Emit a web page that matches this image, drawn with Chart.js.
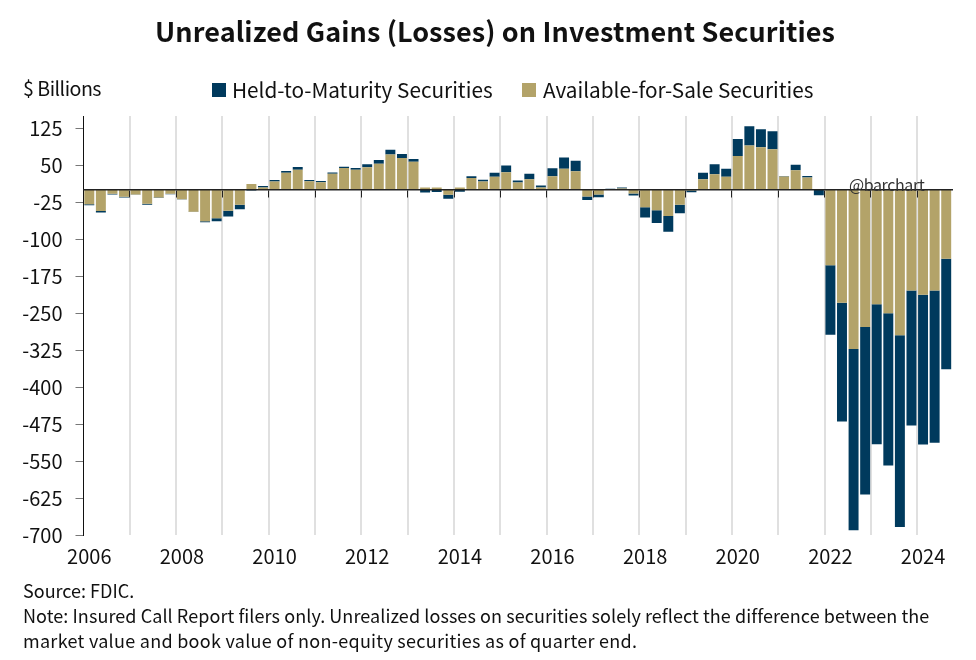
<!DOCTYPE html>
<html>
<head>
<meta charset="utf-8">
<title>Unrealized Gains (Losses) on Investment Securities</title>
<script src="https://cdn.jsdelivr.net/npm/chart.js@4"></script>
<style>
    html, body { margin: 0; padding: 0; background: #fff; }
    #wrap { position: relative; width: 976px; height: 660px; overflow: hidden;
            font-family: "Noto Sans CJK JP", "Noto Sans", sans-serif; color: #111; }
    canvas { position: absolute; left: 0; top: 0; }
    .txt { position: absolute; white-space: nowrap; }
    #title { left: 155px; top: 11px; font-size: 27px; font-weight: 700; line-height: 40px; letter-spacing: 0.1px; }
    #unit { left: 23px; top: 73px; font-size: 19.6px; line-height: 30px; letter-spacing: -0.5px; }
    #watermark { left: 849px; top: 172px; font-size: 16px; line-height: 24px; letter-spacing: -0.4px; color: #333; z-index: 2; }
    #note { left: 23px; top: 578px; font-size: 18px; line-height: 25px; }
    #note span { display: block; }
    .key { position: absolute; top: 83px; width: 14px; height: 14px; }
    .keyText { top: 74px; font-size: 20.75px; line-height: 30px; }
</style>
</head>
<body>
<div id="wrap">
    <canvas id="chart" width="976" height="660"></canvas>
    <div class="txt" id="title">Unrealized Gains (Losses) on Investment Securities</div>
    <div class="txt" id="unit">$ Billions</div>
    <div class="key" id="keyHtm" style="left:212px"></div>
    <div class="txt keyText" style="left:232px">Held-to-Maturity Securities</div>
    <div class="key" id="keyAfs" style="left:522px"></div>
    <div class="txt keyText" style="left:543px">Available-for-Sale Securities</div>
    <div class="txt" id="watermark">@barchart</div>
    <div class="txt" id="note">
        <span>Source: FDIC.</span>
        <span style="letter-spacing:0.07px">Note: Insured Call Report filers only. Unrealized losses on securities solely reflect the difference between the</span>
        <span style="letter-spacing:0.28px">market value and book value of non-equity securities as of quarter end.</span>
    </div>
</div>
<script>
// Quarter ends, one bar each
const quarters = [
    '2006Q1', '2006Q2', '2006Q3', '2006Q4', '2007Q1', '2007Q2', '2007Q3', '2007Q4',
    '2008Q1', '2008Q2', '2008Q3', '2008Q4', '2009Q1', '2009Q2', '2009Q3', '2009Q4',
    '2010Q1', '2010Q2', '2010Q3', '2010Q4', '2011Q1', '2011Q2', '2011Q3', '2011Q4',
    '2012Q1', '2012Q2', '2012Q3', '2012Q4', '2013Q1', '2013Q2', '2013Q3', '2013Q4',
    '2014Q1', '2014Q2', '2014Q3', '2014Q4', '2015Q1', '2015Q2', '2015Q3', '2015Q4',
    '2016Q1', '2016Q2', '2016Q3', '2016Q4', '2017Q1', '2017Q2', '2017Q3', '2017Q4',
    '2018Q1', '2018Q2', '2018Q3', '2018Q4', '2019Q1', '2019Q2', '2019Q3', '2019Q4',
    '2020Q1', '2020Q2', '2020Q3', '2020Q4', '2021Q1', '2021Q2', '2021Q3', '2021Q4',
    '2022Q1', '2022Q2', '2022Q3', '2022Q4', '2023Q1', '2023Q2', '2023Q3', '2023Q4',
    '2024Q1', '2024Q2', '2024Q3'
];

const availableForSale = [
    -29, -42.5, -7.5, -14, -9, -28, -15.5, -7.5,
    -19, -44, -63.5, -57.5, -42, -30, 12, 5,
    17, 35, 41, 17.5, 15.5, 33, 44.5, 41,
    46, 53, 72, 65, 57, 5, 5, -10,
    5, 24, 17, 27, 36, 15, 21.5, 5,
    28, 43, 38, -13.5, -9.5, 2, 3, -7,
    -35, -41, -53, -30, -1, 21.5, 32, 27,
    69, 90, 86.5, 82.5, 27.5, 40, 25, 2,
    -153, -229, -322.5, -278, -232, -250, -295, -204,
    -212.5, -204, -139.5
];

const heldToMaturity = [
    -2, -3.5, -1.5, -1.5, -1, -2, -1, -1,
    -0.5, -1, -2, -6, -12, -9, -1, 3,
    3, 3.5, 5.5, 2.5, 2.5, 2.5, 2.5, 3.5,
    6, 7.5, 9.5, 8, 6, -5, -4, -8,
    -3.5, 4, 3.5, 8, 13.5, 4, 11.5, 4,
    16, 23, 21, -7, -5.5, 0.5, 2, -4.5,
    -21, -26, -32, -17.5, -3.5, 13.5, 20, 16,
    34.5, 39, 36.5, 36.5, 1, 11, 3.5, -11,
    -141, -241, -368, -340, -284, -309, -389, -274,
    -304, -309, -224.5
];

const yTicks = [125, 50, -25, -100, -175, -250, -325, -400, -475, -550, -625, -700];

const AFS_COLOR = '#b3a369';
const HTM_COLOR = '#003a5d';
const FONT = '"Noto Sans CJK JP", "Noto Sans", sans-serif';

document.getElementById('keyHtm').style.background = HTM_COLOR;
document.getElementById('keyAfs').style.background = AFS_COLOR;

// true for the first quarter of a year, which is where the year lines sit
function isYearStart(index) {
    return index > 0 && index < quarters.length && index % 4 === 0;
}

new Chart(document.getElementById('chart'), {
    type: 'bar',
    data: {
        labels: quarters,
        datasets: [
            { label: 'Available-for-Sale Securities', data: availableForSale, backgroundColor: AFS_COLOR },
            { label: 'Held-to-Maturity Securities', data: heldToMaturity, backgroundColor: HTM_COLOR }
        ]
    },
    options: {
        responsive: false,
        animation: false,
        devicePixelRatio: 1,
        layout: { padding: { top: 116, right: 24, left: 0, bottom: 0 } },
        plugins: { legend: { display: false }, title: { display: false }, tooltip: { enabled: false } },
        datasets: { bar: { barPercentage: 0.86, categoryPercentage: 1 } },
        scales: {
            x: {
                stacked: true,
                offset: true,
                afterFit: function(scale) { scale.height = 125; },
                border: { display: false },
                grid: {
                    offset: true,
                    drawTicks: false,
                    lineWidth: 2,
                    color: function(ctx) { return isYearStart(ctx.index) ? '#e0e0e0' : 'rgba(0,0,0,0)'; }
                },
                ticks: {
                    autoSkip: false,
                    maxRotation: 0,
                    padding: 9,
                    color: '#111',
                    font: { family: FONT, size: 20 },
                    callback: function(value, index) {
                        const label = quarters[index];
                        const year = Number(label.slice(0, 4));
                        return label.endsWith('Q1') && year % 2 === 0 ? String(year) : '';
                    }
                }
            },
            zero: {
                axis: 'x',
                position: { y: 0 },
                offset: true,
                border: { display: true, color: '#222', width: 1.5, z: 1 },
                grid: {
                    offset: true,
                    z: 1,
                    drawOnChartArea: false,
                    tickLength: 7,
                    tickWidth: 1,
                    tickColor: function(ctx) { return isYearStart(ctx.index) ? '#222' : 'rgba(0,0,0,0)'; }
                },
                ticks: { display: false, autoSkip: false }
            },
            y: {
                stacked: true,
                min: -700,
                max: 150,
                afterFit: function(scale) { scale.width = 83.5; },
                afterBuildTicks: function(scale) { scale.ticks = yTicks.map(v => ({ value: v })); },
                border: { display: true, color: '#111', width: 1 },
                grid: { drawOnChartArea: false, tickLength: 8, tickColor: '#777', tickWidth: 1 },
                ticks: {
                    padding: 13,
                    color: '#111',
                    font: { family: FONT, size: 20 }
                }
            }
        }
    }
});
</script>
</body>
</html>
